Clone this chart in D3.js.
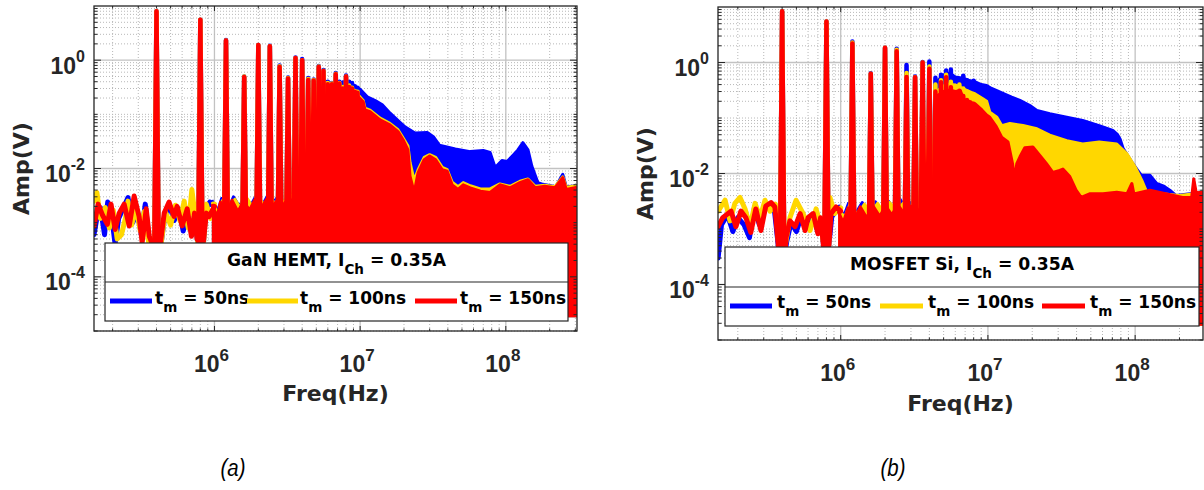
<!DOCTYPE html>
<html><head><meta charset="utf-8">
<script src="https://cdn.jsdelivr.net/npm/d3@7"></script>
<style>body{margin:0;background:#fff}svg{display:block}text{white-space:pre}</style>
</head><body>
<svg id="c" width="1204" height="490"></svg>
<script>
// ---------------- DATA ----------------
const seriesNames = ['blue', 'yellow', 'red'];
const legendValues = ['50ns', '100ns', '150ns'];
const yTickValues = [1e-4, 1e-2, 1e0];
const yTickExp = ['-4', '-2', '0'];
const xTickValues = [1e6, 1e7, 1e8];
const xTickExp = ['6', '7', '8'];
const yDomain = [1e-5, 1e1];
const xDomainA = [1.49e5, 3.08e8];
const xDomainB = [1.467e5, 2.89e8];
const titleA = ['GaN HEMT, I', 'Ch', ' = 0.35A'];
const titleB = ['MOSFET Si, I', 'Ch', ' = 0.35A'];
const subCaptions = ['(a)', '(b)'];
const fillFloor = 1.8e-5;
const peakBase = 3e-4;

// harmonic frequencies (Hz)
const harmonicFreqA = [4.0e5, 8.0e5, 1.2e6, 1.6e6, 2.0e6, 2.4e6, 2.8e6, 3.2e6, 3.6e6, 4.0e6, 4.4e6, 4.8e6, 5.2e6, 5.6e6, 6.0e6, 6.4e6, 6.8e6, 7.2e6, 7.6e6, 8.0e6, 8.4e6, 8.8e6, 9.2e6, 9.6e6];
const harmonicFreqB = [4.0e5, 8.0e5, 1.2e6, 1.6e6, 2.0e6, 2.4e6, 2.8e6, 3.2e6, 3.6e6, 4.0e6, 4.4e6, 4.8e6, 5.2e6, 5.6e6, 6.0e6, 6.4e6, 6.8e6, 7.2e6, 7.6e6, 8.0e6];

// harmonic peak amplitudes (V)
const peaksA_blue   = [8.0, 5.6, 2.35, 0.5, 1.9, 1.85, 0.8, 0.48, 1.12, 1.05, 0.47, 0.44, 0.78, 0.66, 0.4, 0.38, 0.58, 0.4, 0.36, 0.52, 0.4, 0.38, 0.33, 0.31];
const peaksA_yellow = [8.0, 5.6, 2.3, 0.5, 1.9, 1.8, 0.77, 0.47, 1.1, 1.0, 0.45, 0.43, 0.76, 0.64, 0.38, 0.37, 0.56, 0.38, 0.32, 0.5, 0.34, 0.31, 0.27, 0.26];
const peaksA_red    = [8.0, 5.6, 2.3, 0.49, 1.9, 1.8, 0.75, 0.46, 1.1, 1.0, 0.43, 0.42, 0.75, 0.63, 0.36, 0.36, 0.55, 0.37, 0.3, 0.5, 0.32, 0.3, 0.26, 0.25];
const peaksB_blue   = [8.4, 5.5, 2.4, 0.64, 1.84, 1.77, 0.9, 0.56, 1.02, 1.04, 0.53, 0.6, 0.72, 0.75, 0.5, 0.5, 0.58, 0.48, 0.45, 0.47];
const peaksB_yellow = [8.4, 5.5, 2.3, 0.63, 1.84, 1.7, 0.65, 0.54, 1.0, 0.85, 0.4, 0.48, 0.6, 0.45, 0.38, 0.4, 0.34, 0.3, 0.28, 0.27];
const peaksB_red    = [8.4, 5.5, 2.2, 0.63, 1.84, 1.6, 0.55, 0.54, 1.0, 0.77, 0.3, 0.44, 0.54, 0.36, 0.21, 0.31, 0.25, 0.21, 0.19, 0.18];

// low-frequency traces [Hz, V]
const traceA_blue = [[1.49e5,6e-4],[1.55e5,0.0011],[1.65e5,0.0019],[1.76e5,6e-4],[1.85e5,0.0024],[1.97e5,0.0013],[2.08e5,4e-4],[2.2e5,0.0012],[2.38e5,0.0019],[2.55e5,0.0029],[2.75e5,0.001],[2.95e5,0.0016],[3.15e5,6e-4],[3.35e5,0.0022],[3.55e5,5e-4],[3.75e5,4e-4],[4.3e5,4e-4],[4.55e5,0.0013],[4.9e5,0.0021],[5.3e5,0.0011],[5.7e5,0.0018],[6.1e5,7e-4],[6.6e5,0.0015],[7.0e5,6e-4],[7.3e5,0.0012],[7.7e5,4e-4],[8.4e5,4e-4],[8.7e5,0.0017],[9.3e5,0.0024],[1.0e6,0.0019]];
const traceA_yellow = [[1.49e5,0.0025],[1.56e5,0.0036],[1.65e5,0.0012],[1.78e5,0.0019],[1.9e5,8e-4],[2.02e5,0.0017],[2.15e5,5e-4],[2.3e5,6e-4],[2.45e5,0.0012],[2.55e5,0.0025],[2.7e5,9e-4],[2.9e5,0.0019],[3.1e5,7e-4],[3.3e5,0.0016],[3.55e5,4e-4],[3.75e5,4e-4],[4.3e5,4e-4],[4.6e5,0.0016],[5.0e5,9e-4],[5.4e5,0.0021],[5.8e5,0.0011],[6.2e5,0.0025],[6.6e5,8e-4],[7.0e5,0.0041],[7.4e5,0.0012],[7.7e5,4e-4],[8.4e5,4e-4],[8.8e5,0.0022],[9.4e5,0.0012],[1.0e6,0.0022]];
const traceA_red = [[1.49e5,8.7e-4],[1.59e5,0.0022],[1.7e5,0.0014],[1.84e5,9.3e-4],[1.95e5,0.0022],[2.08e5,7.5e-4],[2.22e5,0.0015],[2.4e5,0.0022],[2.6e5,8.7e-4],[2.81e5,0.0031],[3.04e5,0.0013],[3.19e5,4.3e-4],[3.4e5,0.0018],[3.57e5,5.6e-4],[3.75e5,4e-4],[4.25e5,4e-4],[4.52e5,0.0015],[4.88e5,0.0024],[5.28e5,0.0013],[5.54e5,0.002],[6.0e5,8.7e-4],[6.5e5,0.0018],[6.95e5,5.6e-4],[7.3e5,0.0015],[7.6e5,4.9e-4],[8.4e5,4.5e-4],[8.8e5,0.0015],[9.2e5,0.0013],[1.0e6,0.002]];
const traceB_blue = [[1.47e5,3e-4],[1.55e5,0.0012],[1.7e5,0.0018],[1.85e5,9e-4],[2.0e5,0.0016],[2.2e5,0.0012],[2.4e5,7e-4],[2.6e5,0.0025],[2.8e5,0.0012],[3.0e5,0.0022],[3.3e5,0.0027],[3.55e5,0.0021],[3.8e5,4e-4],[4.2e5,4e-4],[4.3e5,6e-4],[4.6e5,0.0013],[5.0e5,9e-4],[5.4e5,0.0017],[5.9e5,0.0011],[6.4e5,0.0018],[7.0e5,9e-4],[7.4e5,0.0014],[7.7e5,4e-4],[8.3e5,5e-4],[8.7e5,0.0017],[9.4e5,0.0021],[1.0e6,0.002]];
const traceB_yellow = [[1.47e5,0.0021],[1.64e5,0.0033],[1.77e5,0.0014],[1.91e5,0.0029],[2.07e5,0.0037],[2.24e5,0.0023],[2.42e5,0.0011],[2.62e5,0.0029],[2.83e5,0.0016],[3.06e5,0.0033],[3.31e5,0.0021],[3.6e5,0.0028],[3.8e5,5e-4],[4.2e5,5e-4],[4.52e5,0.0016],[4.97e5,0.0033],[5.55e5,0.0019],[6.19e5,9.4e-4],[6.8e5,0.0023],[7.3e5,0.0012],[7.7e5,5e-4],[8.3e5,5e-4],[8.45e5,0.0037],[9.1e5,0.0019],[1.0e6,0.0024]];
const traceB_red = [[1.47e5,0.0011],[1.58e5,0.0016],[1.8e5,0.0021],[1.94e5,0.0011],[2.1e5,0.0021],[2.27e5,0.0016],[2.45e5,8.7e-4],[2.65e5,0.0023],[2.87e5,9.4e-4],[3.1e5,0.0026],[3.36e5,0.003],[3.57e5,0.0025],[3.8e5,4e-4],[4.2e5,4e-4],[4.25e5,7e-4],[4.52e5,0.0014],[4.9e5,0.0011],[5.3e5,0.0019],[5.73e5,9.4e-4],[6.0e5,0.0016],[6.5e5,0.0019],[7.0e5,8.2e-4],[7.3e5,0.0016],[7.7e5,4e-4],[8.3e5,5e-4],[8.6e5,0.0019],[9.3e5,0.0025],[1.0e6,0.0021]];

// dense-spectrum upper envelopes [Hz, V]
const envA_blue = [[9.6e5,0.0026],[1.05e6,0.0016],[1.12e6,0.0028],[1.25e6,0.0018],[1.35e6,0.003],[1.48e6,0.002],[1.62e6,0.0031],[1.78e6,0.0021],[1.95e6,0.0033],[2.15e6,0.0022],[2.35e6,0.0034],[2.55e6,0.0024],[2.75e6,0.0031],[3.0e6,0.0024],[3.3e6,0.0035],[3.55e6,0.0025],[3.85e6,0.0034],[4.2e6,0.0028],[4.8e6,0.0035],[5.6e6,0.0045],[6.2e6,0.2],[7.0e6,0.35],[7.6e6,0.4],[8.4e6,0.4],[9.2e6,0.33],[1.0e7,0.29],[1.12e7,0.21],[1.27e7,0.18],[1.42e7,0.15],[1.6e7,0.106],[1.8e7,0.079],[2.03e7,0.059],[2.38e7,0.045],[2.89e7,0.046],[3.2e7,0.038],[3.5e7,0.027],[4.5e7,0.023],[5.7e7,0.0205],[7.0e7,0.0215],[7.8e7,0.0197],[8.45e7,0.0104],[9.4e7,0.014],[1.02e8,0.0135],[1.1e8,0.0167],[1.21e8,0.022],[1.31e8,0.03],[1.42e8,0.022],[1.51e8,0.011],[1.66e8,0.0055],[1.8e8,0.0051],[2.2e8,0.0046],[2.46e8,0.0078],[2.6e8,0.0046],[3.08e8,0.0048]];
const envA_yellow = [[9.6e5,0.0024],[1.06e6,0.0015],[1.14e6,0.0026],[1.27e6,0.0017],[1.38e6,0.0027],[1.52e6,0.0018],[1.66e6,0.0029],[1.82e6,0.002],[2.0e6,0.003],[2.2e6,0.0021],[2.4e6,0.0031],[2.6e6,0.0022],[2.8e6,0.0029],[3.05e6,0.0023],[3.35e6,0.0032],[3.6e6,0.0024],[3.9e6,0.0031],[4.2e6,0.0027],[4.8e6,0.0032],[5.6e6,0.0042],[6.2e6,0.16],[7.0e6,0.13],[7.6e6,0.32],[8.2e6,0.32],[8.8e6,0.27],[9.4e6,0.25],[1.05e7,0.18],[1.08e7,0.13],[1.17e7,0.12],[1.37e7,0.085],[1.6e7,0.068],[1.82e7,0.052],[1.97e7,0.037],[2.13e7,0.026],[2.2e7,0.013],[2.35e7,0.006],[2.5e7,0.0095],[2.75e7,0.016],[3.0e7,0.018],[3.3e7,0.016],[3.66e7,0.0105],[3.96e7,0.0095],[4.28e7,0.0056],[4.7e7,0.0046],[5.1e7,0.0055],[5.7e7,0.0048],[6.7e7,0.0042],[7.8e7,0.0042],[9.1e7,0.0052],[1.07e8,0.0047],[1.25e8,0.0058],[1.42e8,0.0064],[1.59e8,0.0047],[1.85e8,0.0049],[2.17e8,0.0046],[2.46e8,0.007],[2.6e8,0.0045],[3.08e8,0.0048]];
const envA_red = [[9.6e5,0.0022],[1.04e6,0.0013],[1.1e6,0.0024],[1.22e6,0.0015],[1.32e6,0.0026],[1.45e6,0.0016],[1.58e6,0.0025],[1.74e6,0.0017],[1.9e6,0.0027],[2.1e6,0.0019],[2.3e6,0.0028],[2.5e6,0.002],[2.7e6,0.0026],[2.95e6,0.0021],[3.25e6,0.0029],[3.5e6,0.0022],[3.8e6,0.003],[4.1e6,0.0025],[4.8e6,0.003],[5.6e6,0.004],[6.2e6,0.15],[7.0e6,0.12],[7.6e6,0.3],[8.2e6,0.3],[8.8e6,0.25],[9.4e6,0.23],[1.05e7,0.17],[1.08e7,0.12],[1.17e7,0.112],[1.37e7,0.079],[1.6e7,0.064],[1.82e7,0.048],[1.97e7,0.034],[2.13e7,0.022],[2.2e7,0.0072],[2.35e7,0.0036],[2.5e7,0.0084],[2.75e7,0.0145],[3.0e7,0.017],[3.3e7,0.0145],[3.66e7,0.0095],[3.96e7,0.0089],[4.28e7,0.005],[4.7e7,0.0041],[5.1e7,0.005],[5.7e7,0.0044],[6.7e7,0.0038],[7.8e7,0.0036],[9.1e7,0.005],[1.07e8,0.0044],[1.25e8,0.0055],[1.42e8,0.0062],[1.59e8,0.0044],[1.85e8,0.0047],[2.17e8,0.0044],[2.46e8,0.0068],[2.6e8,0.0041],[3.08e8,0.0045]];
const envB_blue = [[9.6e5,0.0027],[1.05e6,0.0017],[1.13e6,0.0029],[1.26e6,0.0019],[1.4e6,0.003],[1.55e6,0.002],[1.72e6,0.0031],[1.9e6,0.0021],[2.1e6,0.0032],[2.3e6,0.0023],[2.5e6,0.0036],[2.75e6,0.0024],[3.0e6,0.003],[3.3e6,0.0025],[3.6e6,0.0034],[3.95e6,0.0026],[4.3e6,0.0035],[4.5e6,0.45],[5.0e6,0.6],[5.5e6,0.65],[6.0e6,0.55],[6.8e6,0.52],[7.5e6,0.47],[8.2e6,0.45],[9.0e6,0.4],[9.8e6,0.385],[1.06e7,0.34],[1.15e7,0.31],[1.3e7,0.27],[1.45e7,0.237],[1.65e7,0.207],[1.93e7,0.168],[2.15e7,0.137],[2.63e7,0.119],[3.43e7,0.103],[4.4e7,0.09],[5.7e7,0.073],[7.05e7,0.06],[7.6e7,0.05],[7.9e7,0.042],[8.3e7,0.028],[9.5e7,0.016],[1.05e8,0.011],[1.1e8,0.0093],[1.26e8,0.0093],[1.4e8,0.0066],[1.55e8,0.006],[1.72e8,0.005],[1.9e8,0.004],[2.36e8,0.0043],[2.89e8,0.0045]];
const envB_yellow = [[9.6e5,0.0024],[1.06e6,0.0016],[1.15e6,0.0027],[1.3e6,0.0018],[1.45e6,0.0028],[1.6e6,0.0019],[1.78e6,0.0029],[1.95e6,0.002],[2.15e6,0.003],[2.4e6,0.0021],[2.65e6,0.0029],[2.9e6,0.0022],[3.2e6,0.0031],[3.5e6,0.0023],[3.85e6,0.0031],[4.3e6,0.0032],[4.5e6,0.3],[5.0e6,0.38],[5.5e6,0.41],[6.2e6,0.38],[6.8e6,0.336],[7.5e6,0.3],[8.2e6,0.27],[9.3e6,0.22],[9.8e6,0.2],[1.03e7,0.127],[1.15e7,0.103],[1.24e7,0.073],[1.41e7,0.08],[1.73e7,0.073],[2.15e7,0.064],[2.63e7,0.049],[3.43e7,0.039],[4.4e7,0.034],[5.7e7,0.037],[7.5e7,0.034],[8.8e7,0.0226],[1.0e8,0.0131],[1.11e8,0.0075],[1.2e8,0.0046],[1.4e8,0.0044],[2.0e8,0.004],[2.89e8,0.0045]];
const envB_red = [[9.6e5,0.0021],[1.04e6,0.0013],[1.12e6,0.0024],[1.24e6,0.0015],[1.36e6,0.0025],[1.5e6,0.0016],[1.66e6,0.0026],[1.84e6,0.0017],[2.02e6,0.0026],[2.22e6,0.0018],[2.45e6,0.0027],[2.7e6,0.0019],[3.0e6,0.0026],[3.3e6,0.002],[3.7e6,0.0028],[4.0e6,0.0022],[4.3e6,0.003],[4.5e6,0.25],[5.0e6,0.3],[5.5e6,0.32],[6.0e6,0.3],[6.5e6,0.31],[6.9e6,0.207],[7.2e6,0.21],[7.8e6,0.186],[8.2e6,0.18],[9.1e6,0.14],[9.8e6,0.113],[1.03e7,0.103],[1.14e7,0.07],[1.24e7,0.045],[1.37e7,0.037],[1.47e7,0.015],[1.52e7,0.0076],[1.57e7,0.015],[1.65e7,0.02],[1.78e7,0.029],[2.02e7,0.03],[2.26e7,0.021],[2.5e7,0.015],[2.76e7,0.0105],[3.07e7,0.0114],[3.23e7,0.012],[3.6e7,0.0088],[3.97e7,0.005],[4.3e7,0.0037],[4.9e7,0.0043],[6.05e7,0.0043],[7.5e7,0.0046],[8.8e7,0.0043],[9.5e7,0.0066],[9.8e7,0.0043],[1.26e8,0.005],[1.64e8,0.0043],[2.1e8,0.0037],[2.42e8,0.0037],[2.5e8,0.008],[2.6e8,0.0045],[2.89e8,0.0046]];

// ---------------- STYLE / LAYOUT ----------------
const colors = {blue: '#0000ff', yellow: '#ffd700', red: '#ff0000'};
const ink = '#262626';
const lobeHalf = 2.2;   // px half-width of harmonic lobe base
const panels = [
  {id: 'a', left: 94, right: 577, top: 6, bottom: 331, xDomain: xDomainA, harm: harmonicFreqA,
   peaks: {blue: peaksA_blue, yellow: peaksA_yellow, red: peaksA_red},
   trace: {blue: traceA_blue, yellow: traceA_yellow, red: traceA_red},
   env: {blue: envA_blue, yellow: envA_yellow, red: envA_red},
   title: titleA, caption: subCaptions[0], capX: 233, ylabX: 29, xlabBase: 401,
   legend: {x: 105, y: 243, w: 463, h: 78, div: 39, titleBase: 23, entryBase: 61, lineY: 58,
            lines: [[5, 47], [142, 193], [310, 352]], texts: [50, 195, 355]}},
  {id: 'b', left: 718, right: 1203, top: 7, bottom: 340, xDomain: xDomainB, harm: harmonicFreqB,
   peaks: {blue: peaksB_blue, yellow: peaksB_yellow, red: peaksB_red},
   trace: {blue: traceB_blue, yellow: traceB_yellow, red: traceB_red},
   env: {blue: envB_blue, yellow: envB_yellow, red: envB_red},
   title: titleB, caption: subCaptions[1], capX: 893, ylabX: 653, xlabBase: 411,
   legend: {x: 725, y: 247, w: 474, h: 79, div: 40, titleBase: 23, entryBase: 61, lineY: 59,
            lines: [[5, 47], [155, 198], [317, 360]], texts: [52, 203, 365]}}
];

const svg = d3.select('#c');
const defs = svg.append('defs');

function isMajor(v, list) { return list.some(m => Math.abs(Math.log10(v) - Math.log10(m)) < 1e-6); }

panels.forEach(p => {
  const x = d3.scaleLog().domain(p.xDomain).range([p.left, p.right]);
  const y = d3.scaleLog().domain(yDomain).range([p.bottom, p.top]);
  const g = svg.append('g');
  const clipId = 'clip-' + p.id;
  defs.append('clipPath').attr('id', clipId).append('rect')
    .attr('x', p.left).attr('y', p.top).attr('width', p.right - p.left).attr('height', p.bottom - p.top);

  // grid
  const xt = x.ticks().filter(v => v >= p.xDomain[0] && v <= p.xDomain[1]);
  const yt = y.ticks().filter(v => v >= yDomain[0] && v < yDomain[1]);
  const grid = g.append('g');
  xt.forEach(v => {
    const maj = isMajor(v, xTickValues);
    grid.append('line').attr('x1', x(v)).attr('x2', x(v)).attr('y1', p.top).attr('y2', p.bottom)
      .attr('stroke', maj ? '#c2c2c2' : '#b8b8b8').attr('stroke-width', maj ? 1.3 : 1)
      .attr('stroke-dasharray', maj ? null : '1,2');
  });
  yt.forEach(v => {
    const maj = isMajor(v, yTickValues);
    grid.append('line').attr('y1', y(v)).attr('y2', y(v)).attr('x1', p.left).attr('x2', p.right)
      .attr('stroke', maj ? '#c2c2c2' : '#b8b8b8').attr('stroke-width', maj ? 1.3 : 1)
      .attr('stroke-dasharray', maj ? null : '1,2');
  });

  // data
  const dg = g.append('g').attr('clip-path', `url(#${clipId})`);
  const area = d3.area().x(d => x(d[0])).y0(y(fillFloor)).y1(d => y(d[1]));
  const line = d3.line().x(d => x(d[0])).y(d => y(d[1]));
  seriesNames.forEach(s => {
    const c = colors[s];
    dg.append('path').datum(p.env[s]).attr('d', area).attr('fill', c);
    dg.append('path').datum(p.env[s]).attr('d', line).attr('fill', 'none').attr('stroke', c)
      .attr('stroke-width', 3).attr('stroke-linejoin', 'round');
    dg.append('path').datum(p.trace[s]).attr('d', line).attr('fill', 'none').attr('stroke', c)
      .attr('stroke-width', 5).attr('stroke-linejoin', 'round').attr('stroke-linecap', 'round');
    dg.selectAll(null).data(p.harm.map((f, i) => [f, p.peaks[s][i]])).enter().append('path')
      .attr('d', d => {
        const px = x(d[0]), yb = y(peakBase), yt2 = y(d[1]);
        return `M${px - lobeHalf},${yb}L${px},${yt2}L${px + lobeHalf},${yb}Z`;
      })
      .attr('fill', c).attr('stroke', c).attr('stroke-width', 4.5).attr('stroke-linejoin', 'round');
  });

  // axes box + ticks
  const ag = g.append('g');
  xt.forEach(v => {
    const len = isMajor(v, xTickValues) ? 5 : 2.5;
    ag.append('line').attr('x1', x(v)).attr('x2', x(v)).attr('y1', p.bottom).attr('y2', p.bottom - len).attr('stroke', ink);
    ag.append('line').attr('x1', x(v)).attr('x2', x(v)).attr('y1', p.top).attr('y2', p.top + len).attr('stroke', ink);
  });
  yt.forEach(v => {
    const len = isMajor(v, yTickValues) ? 7 : 3.5;
    ag.append('line').attr('y1', y(v)).attr('y2', y(v)).attr('x1', p.left).attr('x2', p.left + len).attr('stroke', ink);
    ag.append('line').attr('y1', y(v)).attr('y2', y(v)).attr('x1', p.right).attr('x2', p.right - len).attr('stroke', ink);
  });
  ag.append('rect').attr('x', p.left).attr('y', p.top).attr('width', p.right - p.left).attr('height', p.bottom - p.top)
    .attr('fill', 'none').attr('stroke', ink).attr('stroke-width', 1.3);

  // tick labels
  const tf = '"Liberation Sans", Arial, sans-serif';
  yTickValues.forEach((v, i) => {
    const t = g.append('text').attr('x', p.left - 9).attr('y', y(v) + 13.5).attr('text-anchor', 'end')
      .attr('font-family', tf).attr('font-weight', 'bold').attr('font-size', 23).attr('fill', ink);
    t.append('tspan').text('10');
    t.append('tspan').attr('dy', -12).attr('font-size', 16).text(yTickExp[i]);
  });
  xTickValues.forEach((v, i) => {
    const t = g.append('text').attr('x', x(v) - 3).attr('y', p.bottom + 41).attr('text-anchor', 'middle')
      .attr('font-family', tf).attr('font-weight', 'bold').attr('font-size', 23).attr('fill', ink);
    t.append('tspan').text('10');
    t.append('tspan').attr('dy', -11).attr('font-size', 17).text(xTickExp[i]);
  });

  // axis labels
  const lf = '"DejaVu Sans", Verdana, sans-serif';
  g.append('text').attr('transform', `translate(${p.ylabX},${(p.top + p.bottom) / 2}) rotate(-90)`)
    .attr('text-anchor', 'middle').attr('font-family', lf).attr('font-weight', 'bold').attr('font-size', 22)
    .attr('fill', ink).text('Amp(V)');
  g.append('text').attr('x', (p.left + p.right) / 2).attr('y', p.xlabBase)
    .attr('text-anchor', 'middle').attr('font-family', lf).attr('font-weight', 'bold').attr('font-size', 22)
    .attr('fill', ink).text('Freq(Hz)');

  // legend
  const L = p.legend;
  const lg = g.append('g');
  lg.append('rect').attr('x', L.x).attr('y', L.y).attr('width', L.w).attr('height', L.h)
    .attr('fill', '#fff').attr('stroke', ink).attr('stroke-width', 1.2);
  lg.append('line').attr('x1', L.x).attr('x2', L.x + L.w).attr('y1', L.y + L.div).attr('y2', L.y + L.div)
    .attr('stroke', ink).attr('stroke-width', 1.2);
  const tt = lg.append('text').attr('x', L.x + L.w / 2).attr('y', L.y + L.titleBase).attr('text-anchor', 'middle')
    .attr('font-family', lf).attr('font-weight', 'bold').attr('font-size', 17.2).attr('fill', '#000');
  tt.append('tspan').text(p.title[0]);
  tt.append('tspan').attr('dy', 8).attr('font-size', 13.5).text(p.title[1]);
  tt.append('tspan').attr('dy', -8).text(p.title[2]);
  seriesNames.forEach((s, i) => {
    lg.append('line').attr('x1', L.x + L.lines[i][0]).attr('x2', L.x + L.lines[i][1])
      .attr('y1', L.y + L.lineY).attr('y2', L.y + L.lineY).attr('stroke', colors[s]).attr('stroke-width', 5);
    const et = lg.append('text').attr('x', L.x + L.texts[i]).attr('y', L.y + L.entryBase)
      .attr('font-family', lf).attr('font-weight', 'bold').attr('font-size', 17).attr('fill', '#000');
    et.append('tspan').text('t');
    et.append('tspan').attr('dy', 8).attr('font-size', 13.5).text('m');
    et.append('tspan').attr('dy', -8).text(' = ' + legendValues[i]);
  });

  // sub caption
  svg.append('text').attr('transform', `translate(${p.capX},476) scale(0.85,1)`).attr('text-anchor', 'middle')
    .attr('font-family', tf).attr('font-style', 'italic').attr('font-size', 24).attr('fill', '#000').text(p.caption);
});
</script>
</body></html>
